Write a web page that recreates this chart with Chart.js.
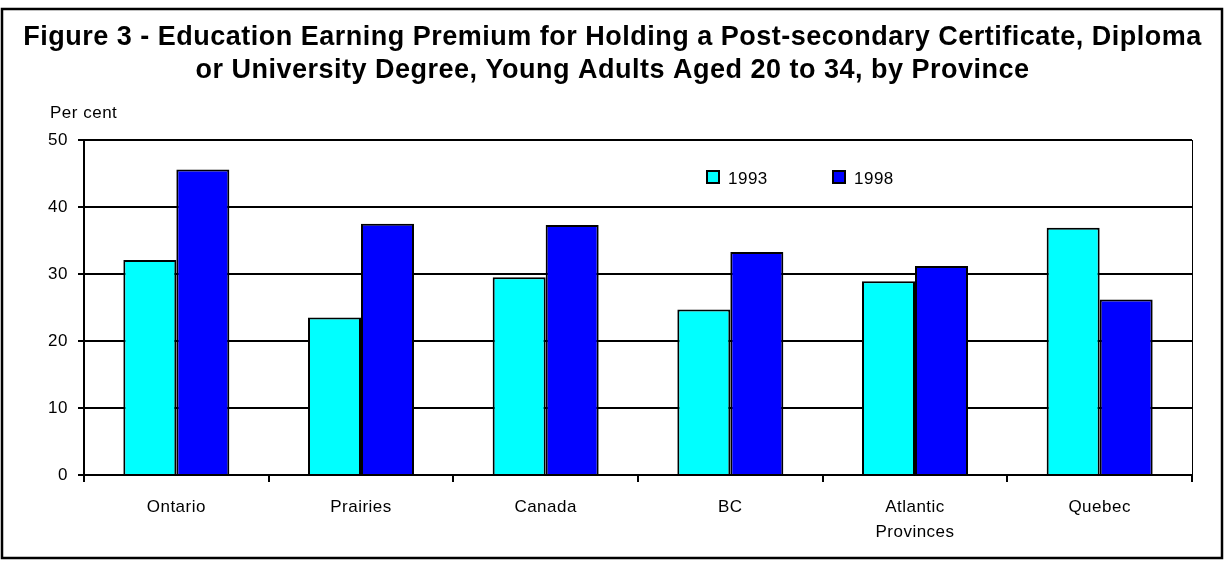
<!DOCTYPE html>
<html>
<head>
<meta charset="utf-8">
<script src="https://cdn.jsdelivr.net/npm/chart.js@4"></script>
<style>
    html, body { margin: 0; padding: 0; background: #fff; }
    #wrap { width: 1225px; height: 565px; position: relative; }
</style>
</head>
<body>
<div id="wrap"><canvas id="premiumChart"></canvas></div>
<script>
    // Data
    const provinces = ['Ontario', 'Prairies', 'Canada', 'BC', ['Atlantic', 'Provinces'], 'Quebec'];
    const premium1993 = [32.1, 23.5, 29.5, 24.7, 28.9, 36.9];
    const premium1998 = [45.6, 37.5, 37.3, 33.3, 31.2, 26.2];
    const yTicks = [0, 10, 20, 30, 40, 50];

    const FONT = '"Liberation Sans", Arial, sans-serif';
    const SPACING = '0.5px';

    // outer frame, right edge of the plot, "Per cent" and the in-plot legend
    const decorations = {
        id: 'decorations',
        beforeLayout(chart) {
            chart.ctx.letterSpacing = SPACING;
        },
        beforeDraw(chart) {
            const ctx = chart.ctx;
            ctx.letterSpacing = SPACING;
            ctx.save();
            ctx.fillStyle = '#fff';
            ctx.fillRect(0, 0, chart.width, chart.height);
            ctx.restore();
        },
        afterDraw(chart) {
            const ctx = chart.ctx;
            const a = chart.chartArea;
            ctx.save();
            ctx.strokeStyle = '#000';
            ctx.lineWidth = 2.5;
            ctx.strokeRect(2, 9, 1220, 549);

            ctx.lineWidth = 1;
            ctx.beginPath();
            ctx.moveTo(Math.round(a.right) + 0.5, a.top);
            ctx.lineTo(Math.round(a.right) + 0.5, a.bottom + 7);
            ctx.stroke();

            ctx.fillStyle = '#000';
            ctx.font = '17px ' + FONT;
            ctx.textBaseline = 'middle';
            ctx.textAlign = 'left';
            ctx.fillText('Per cent', a.left - 34, a.top - 27);

            const x0 = a.left + 623;
            const y0 = a.top + 31;
            chart.data.datasets.forEach((ds, i) => {
                const bx = x0 + i * 126;
                ctx.fillStyle = ds.backgroundColor;
                ctx.fillRect(bx, y0, 12, 12);
                ctx.lineWidth = 2;
                ctx.strokeRect(bx, y0, 12, 12);
                ctx.fillStyle = '#000';
                ctx.fillText(ds.label, bx + 21, y0 + 8);
            });
            ctx.restore();
        }
    };

    new Chart(document.getElementById('premiumChart'), {
        type: 'bar',
        data: {
            labels: provinces,
            datasets: [
                {
                    label: '1993',
                    data: premium1993,
                    backgroundColor: '#00ffff',
                    borderColor: '#000',
                    borderWidth: 2,
                    categoryPercentage: 0.574,
                    barPercentage: 1.0
                },
                {
                    label: '1998',
                    data: premium1998,
                    backgroundColor: '#0000ff',
                    borderColor: '#000',
                    borderWidth: 2,
                    categoryPercentage: 0.574,
                    barPercentage: 1.0
                }
            ]
        },
        options: {
            responsive: true,
            maintainAspectRatio: false,
            animation: false,
            layout: { padding: 0 },
            plugins: {
                legend: { display: false },
                tooltip: { enabled: false },
                title: {
                    display: true,
                    text: [
                        'Figure 3 - Education Earning Premium for Holding a Post-secondary Certificate, Diploma',
                        'or University Degree, Young Adults Aged 20 to 34, by Province'
                    ],
                    color: '#000',
                    font: { family: FONT, size: 27, weight: 'bold', lineHeight: 33 / 27 },
                    padding: { top: 21, bottom: 53 }
                }
            },
            scales: {
                x: {
                    afterFit(scale) { scale.height = 90; },
                    grid: {
                        display: true,
                        drawOnChartArea: false,
                        drawTicks: true,
                        tickLength: 7,
                        color: '#000',
                        lineWidth: 2,
                        offset: true
                    },
                    border: { color: '#000', width: 2 },
                    ticks: {
                        color: '#000',
                        padding: 13,
                        font: { family: FONT, size: 17, lineHeight: 1.45 },
                        maxRotation: 0,
                        autoSkip: false
                    }
                },
                y: {
                    min: 0,
                    max: 50,
                    afterFit(scale) { scale.width = 84; },
                    afterBuildTicks(scale) { scale.ticks = yTicks.map(v => ({ value: v })); },
                    grid: {
                        color: '#000',
                        lineWidth: 2,
                        tickLength: 6
                    },
                    border: { color: '#000', width: 2 },
                    ticks: {
                        color: '#000',
                        padding: 10,
                        font: { family: FONT, size: 17 }
                    }
                },
                // empty right axis that only reserves the white margin right of the plot
                yRight: {
                    position: 'right',
                    min: 0,
                    max: 50,
                    afterFit(scale) { scale.width = 33; },
                    grid: { display: false },
                    border: { display: false },
                    ticks: { display: false }
                }
            }
        },
        plugins: [decorations]
    });
</script>
</body>
</html>
